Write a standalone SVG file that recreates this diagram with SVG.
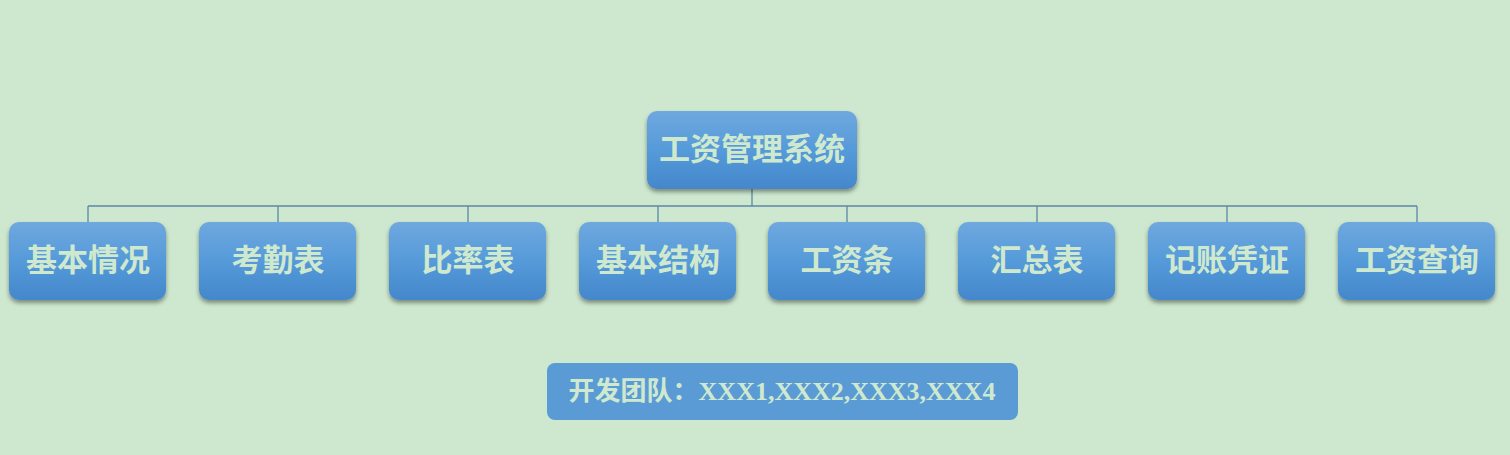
<svg xmlns="http://www.w3.org/2000/svg" width="1510" height="455" viewBox="0 0 1510 455">
<defs>
<linearGradient id="g" x1="0" y1="0" x2="0" y2="1">
<stop offset="0" stop-color="#6fa8df"/>
<stop offset="0.5" stop-color="#559ad9"/>
<stop offset="1" stop-color="#4487cb"/>
</linearGradient>
<filter id="sh" x="-10%" y="-10%" width="120%" height="130%">
<feDropShadow dx="0" dy="3" stdDeviation="2" flood-color="#000" flood-opacity="0.4"/>
</filter>
<style>
.box{fill:url(#g);filter:url(#sh)}
.t{font-family:"Liberation Serif","Noto Sans CJK SC",serif;font-weight:bold;font-size:31px;fill:#cfe9cf;text-anchor:middle;dominant-baseline:central}
.c{stroke:#5d87a8;stroke-width:1.3;fill:none}
</style>
</defs>
<rect width="1510" height="455" fill="#cde8cf"/>
<g id="connectors">
<path class="c" d="M752 189V206M88 206H1417M88 206V222M278 206V222M468 206V222M658 206V222M847 206V222M1037 206V222M1227 206V222M1417 206V222"/>
</g>
<g id="root"><rect class="box" x="647" y="111" width="210" height="78" rx="10"/><text class="t" x="752" y="149">工资管理系统</text></g>
<g id="n1"><rect class="box" x="9" y="222" width="157" height="78" rx="10"/><text class="t" x="88" y="260">基本情况</text></g>
<g id="n2"><rect class="box" x="199" y="222" width="157" height="78" rx="10"/><text class="t" x="278" y="260">考勤表</text></g>
<g id="n3"><rect class="box" x="389" y="222" width="157" height="78" rx="10"/><text class="t" x="468" y="260">比率表</text></g>
<g id="n4"><rect class="box" x="579" y="222" width="157" height="78" rx="10"/><text class="t" x="658" y="260">基本结构</text></g>
<g id="n5"><rect class="box" x="768" y="222" width="157" height="78" rx="10"/><text class="t" x="847" y="260">工资条</text></g>
<g id="n6"><rect class="box" x="958" y="222" width="157" height="78" rx="10"/><text class="t" x="1037" y="260">汇总表</text></g>
<g id="n7"><rect class="box" x="1148" y="222" width="157" height="78" rx="10"/><text class="t" x="1227" y="260">记账凭证</text></g>
<g id="n8"><rect class="box" x="1338" y="222" width="157" height="78" rx="10"/><text class="t" x="1417" y="260">工资查询</text></g>
<g id="team"><rect x="547" y="363" width="471" height="57" rx="8" fill="#5b9bd5"/><text class="t" x="782" y="391" style="font-size:26px">开发团队：XXX1,XXX2,XXX3,XXX4</text></g>
</svg>
